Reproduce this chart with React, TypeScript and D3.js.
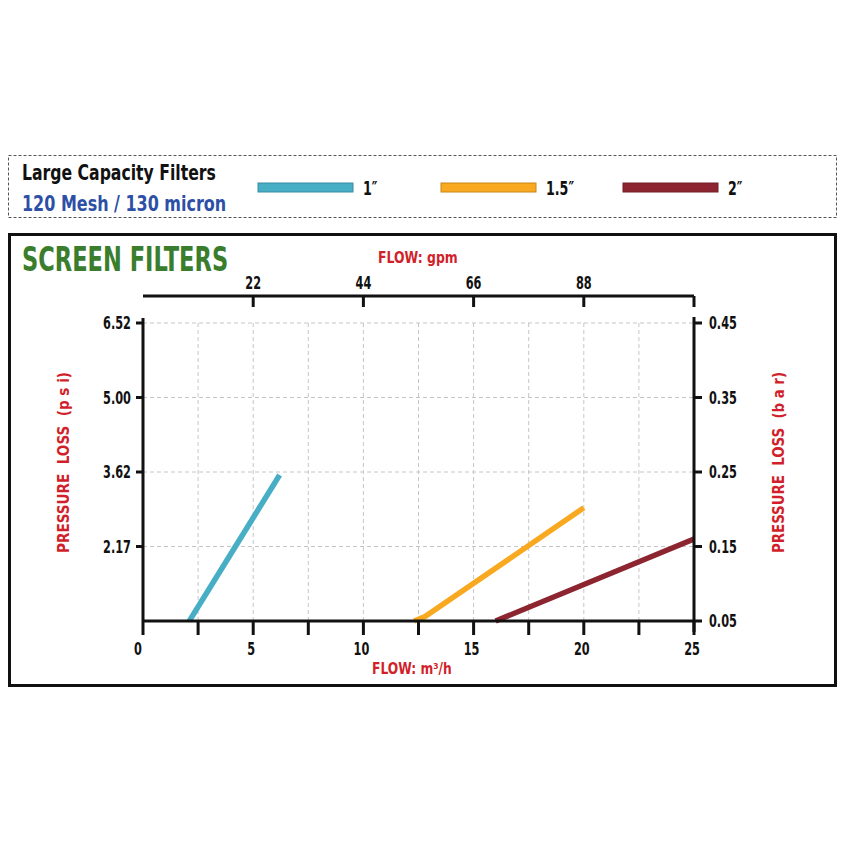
import React from "react";
import * as d3 from "d3";

const seriesNames = ["1″", "1.5″", "2″"];
const seriesColors = ["#47aec6", "#f8a91f", "#8d2530"];
// flow in m3/h, pressure loss in bar
const series1 = [
  { q: 2.1, p: 0.05 },
  { q: 6.2, p: 0.246 },
];
const series15 = [
  { q: 12.3, p: 0.05 },
  { q: 12.8, p: 0.056 },
  { q: 20.0, p: 0.202 },
];
const series2 = [
  { q: 16.0, p: 0.05 },
  { q: 25.0, p: 0.16 },
];
const allSeries = [series1, series15, series2];

const bottomTicks = [0, 2.5, 5, 7.5, 10, 12.5, 15, 17.5, 20, 22.5, 25];
const bottomLabeled = [0, 5, 10, 15, 20, 25];
const gpmTicks = [22, 44, 66, 88, 110];
const gpmLabeled = [22, 44, 66, 88];
const barTicks = [0.45, 0.35, 0.25, 0.15, 0.05];
const psiTickBars = [0.45, 0.35, 0.25, 0.15];
const psiLabels = ["6.52", "5.00", "3.62", "2.17"];
const gridX = [2.5, 5, 7.5, 10, 12.5, 15, 17.5, 20, 22.5];

const FONT = "'DejaVu Sans Condensed', 'DejaVu Sans', sans-serif";
const RED = "#d11f2b";
const SX = 0.74;

type TP = {
  x: number;
  y: number;
  sx?: number;
  anchor?: "start" | "middle" | "end";
  size: number;
  fill: string;
  children: React.ReactNode;
};
function T({ x, y, sx = SX, anchor = "start", size, fill, children }: TP) {
  return (
    <text
      transform={`translate(${x},${y}) scale(${sx},1)`}
      textAnchor={anchor}
      fontSize={size}
      fontWeight="bold"
      fill={fill}
    >
      {children}
    </text>
  );
}

export default function App() {
  const x = d3.scaleLinear().domain([0, 25]).range([143, 694]);
  const xg = d3.scaleLinear().domain([0, 110]).range([143, 694]);
  const y = d3.scaleLinear().domain([0.05, 0.45]).range([621, 323]);
  const line = d3
    .line<{ q: number; p: number }>()
    .x((d) => x(d.q))
    .y((d) => y(d.p))
    .curve(d3.curveLinear);

  return (
    <svg width={850} height={850} style={{ display: "block", position: "absolute", left: 0, top: 0 }} fontFamily={FONT}>
      <rect x={0} y={0} width={850} height={850} fill="#fff" />
      {/* legend box */}
      <rect x={8.5} y={155.5} width={828} height={62} fill="none" stroke="#555" strokeWidth={1} strokeDasharray="3,2" />
      <T x={22} y={180} sx={0.83} size={21} fill="#111">Large Capacity Filters</T>
      <T x={22} y={211} sx={0.846} size={21} fill="#2d4fa6">120 Mesh / 130 micron</T>
      {seriesNames.map((n, i) => {
        const lx = [258, 441, 623][i];
        return (
          <g key={n}>
            <rect x={lx} y={183} width={95} height={9} fill={seriesColors[i]} stroke={d3.color(seriesColors[i])!.darker(0.6).toString()} strokeWidth={1} />
            <T x={lx + 105} y={195} size={19} fill="#111">{n}</T>
          </g>
        );
      })}

      {/* main box */}
      <rect x={9.5} y={234.5} width={826} height={451} fill="none" stroke="#111" strokeWidth={3} />
      <T x={22} y={271} sx={0.76} size={33} fill="#3a7d2d">SCREEN FILTERS</T>

      {/* grid */}
      {psiTickBars.map((b) => (
        <line key={"h" + b} x1={143} x2={694} y1={y(b)} y2={y(b)} stroke="#c6c6c6" strokeWidth={1} strokeDasharray="4,3" />
      ))}
      {gridX.map((q) => (
        <line key={"v" + q} x1={x(q)} x2={x(q)} y1={y(0.05)} y2={y(0.45)} stroke="#c6c6c6" strokeWidth={1} strokeDasharray="4,3" />
      ))}

      {/* series */}
      {allSeries.map((s, i) => (
        <path key={i} d={line(s) || ""} fill="none" stroke={seriesColors[i]} strokeWidth={5.5} strokeLinecap="butt" strokeLinejoin="round" />
      ))}

      {/* bottom axis */}
      <line x1={143} x2={694} y1={621} y2={621} stroke="#111" strokeWidth={3} />
      {bottomTicks.map((q) => (
        <line key={"bt" + q} x1={x(q)} x2={x(q)} y1={621} y2={635} stroke="#111" strokeWidth={3} />
      ))}
      {bottomLabeled.map((q) => (
        <T key={"bl" + q} x={x(q) - (q === 0 ? 5 : 2)} y={655} anchor="middle" size={17} fill="#111">{q}</T>
      ))}
      <T x={372} y={674} sx={0.91} size={15} fill={RED}>FLOW: m³/h</T>

      {/* top axis */}
      <line x1={143} x2={694} y1={296} y2={296} stroke="#111" strokeWidth={3} />
      {gpmTicks.map((g) => (
        <line key={"tt" + g} x1={xg(g)} x2={xg(g)} y1={296} y2={307} stroke="#111" strokeWidth={3} />
      ))}
      {gpmLabeled.map((g) => (
        <T key={"tl" + g} x={xg(g)} y={289} anchor="middle" size={17} fill="#111">{g}</T>
      ))}
      <T x={378} y={263} sx={0.92} size={15} fill={RED}>FLOW: gpm</T>

      {/* left axis */}
      <line x1={143} x2={143} y1={318} y2={621} stroke="#111" strokeWidth={3} />
      {psiTickBars.map((b, i) => (
        <g key={"lt" + b}>
          <line x1={136} x2={143} y1={y(b)} y2={y(b)} stroke="#111" strokeWidth={3} />
          <T x={131} y={y(b) + 6} anchor="end" size={17} fill="#111">{psiLabels[i]}</T>
        </g>
      ))}
      <text transform={`translate(69,553) rotate(-90)`} fontSize={16} fontWeight="bold" fill={RED} xmlSpace="preserve" textLength={181} lengthAdjust="spacingAndGlyphs">
        PRESSURE  LOSS  (p s i)
      </text>

      {/* right axis */}
      <line x1={694} x2={694} y1={317} y2={632} stroke="#111" strokeWidth={3} />
      {barTicks.map((b) => (
        <g key={"rt" + b}>
          <line x1={694} x2={702} y1={y(b)} y2={y(b)} stroke="#111" strokeWidth={3} />
          <T x={709} y={y(b) + 6} anchor="start" size={17} fill="#111">{b.toFixed(2)}</T>
        </g>
      ))}
      <text transform={`translate(784,553) rotate(-90)`} fontSize={16} fontWeight="bold" fill={RED} xmlSpace="preserve" textLength={181} lengthAdjust="spacingAndGlyphs">
        PRESSURE  LOSS  (b a r)
      </text>
    </svg>
  );
}
